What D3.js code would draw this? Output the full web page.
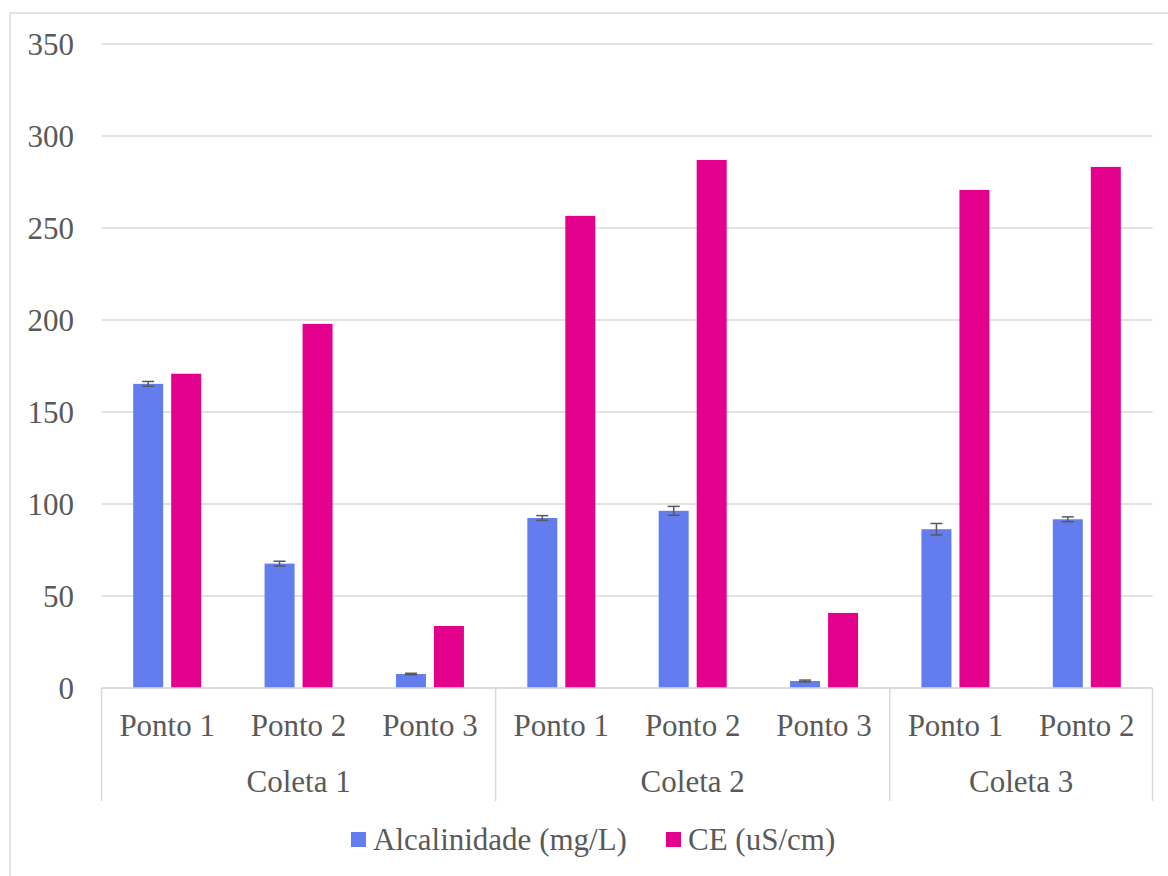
<!DOCTYPE html>
<html><head><meta charset="utf-8">
<script src="https://cdn.jsdelivr.net/npm/d3@7"></script>
<style>body{margin:0;background:#fff}svg{display:block}</style>
</head><body>
<svg id="c" width="1168" height="876"></svg>
<script>
const groups = ["Coleta 1","Coleta 2","Coleta 3"];
const points = [["Ponto 1","Ponto 2","Ponto 3"],["Ponto 1","Ponto 2","Ponto 3"],["Ponto 1","Ponto 2"]];
const seriesNames = ["Alcalinidade (mg/L)","CE (uS/cm)"];
const alcalinidade = [165.3, 67.6, 7.6, 92.4, 96.3, 3.8, 86.3, 91.7];
const alcErr = [1.3, 1.3, 0.4, 1.3, 2.4, 0.5, 3.1, 1.3];
const ce = [170.8, 197.9, 33.7, 256.6, 287.0, 40.8, 270.7, 283.2];
const yTicks = [0,50,100,150,200,250,300,350];
const colors = ["#647DEE","#E3008C"];

(function(){
const svg = d3.select("#c");
const font = "'Liberation Serif','Times New Roman',serif";
const fs = 31;
const textColor = "#595959";
const pL = 101.5, pR = 1152.5, pT = 44, pB = 688;

svg.append("rect").attr("x",10).attr("y",13).attr("width",1200).attr("height",900)
  .attr("fill","none").attr("stroke","#d9d9d9").attr("stroke-width",1.5);

const cats = [];
points.forEach((ps,gi)=>ps.forEach((p,pi)=>cats.push({g:gi,label:p,key:gi+"-"+pi})));
const data = cats.map((c,i)=>({...c, v:[alcalinidade[i], ce[i]], e:alcErr[i]}));

const x = d3.scaleBand().domain(cats.map(c=>c.key)).range([pL,pR]).paddingInner(0).paddingOuter(0);
const y = d3.scaleLinear().domain([0,350]).range([pB,pT]);
const barW = 30, gap = 8;
const xs = d3.scaleBand().domain([0,1]).range([-(barW+gap/2), barW+gap/2]).paddingInner(gap/(barW+gap)).paddingOuter(0);

svg.append("g").selectAll("line").data(yTicks).join("line")
  .attr("x1",pL).attr("x2",pR).attr("y1",d=>y(d)).attr("y2",d=>y(d))
  .attr("stroke","#d9d9d9").attr("stroke-width",1.5);

svg.append("g").selectAll("text").data(yTicks).join("text")
  .attr("x",74).attr("y",d=>y(d)+11).attr("text-anchor","end")
  .attr("font-family",font).attr("font-size",fs).attr("fill",textColor).text(d=>d);

const cg = svg.append("g").selectAll("g").data(data).join("g")
  .attr("transform",d=>`translate(${x(d.key)+x.bandwidth()/2},0)`);
cg.selectAll("rect").data(d=>d.v.map((v,i)=>({v,i}))).join("rect")
  .attr("x",d=>xs(d.i)).attr("width",xs.bandwidth())
  .attr("y",d=>y(d.v)).attr("height",d=>pB-y(d.v))
  .attr("fill",d=>colors[d.i]);

const cx0 = xs(0)+xs.bandwidth()/2;
const eb = cg.append("g").attr("stroke","#595959").attr("stroke-width",1.5);
eb.append("line").attr("x1",cx0).attr("x2",cx0)
  .attr("y1",d=>y(d.v[0]+d.e)).attr("y2",d=>y(d.v[0]-d.e));
[1,-1].forEach(s=>eb.append("line")
  .attr("x1",cx0-6).attr("x2",cx0+6)
  .attr("y1",d=>y(d.v[0]+s*d.e)).attr("y2",d=>y(d.v[0]+s*d.e)));

svg.append("line").attr("x1",pL).attr("x2",pR).attr("y1",pB).attr("y2",pB)
  .attr("stroke","#d9d9d9").attr("stroke-width",1.5);

svg.append("g").selectAll("text").data(cats).join("text")
  .attr("x",d=>x(d.key)+x.bandwidth()/2).attr("y",736).attr("text-anchor","middle")
  .attr("font-family",font).attr("font-size",fs).attr("fill",textColor).text(d=>d.label);

let idx = 0;
const bounds = [];
points.forEach((ps,gi)=>{ const s = x(cats[idx].key); idx += ps.length; const e = x(cats[idx-1].key)+x.bandwidth(); bounds.push({gi,s,e}); });
const divX = [bounds[0].s, ...bounds.map(b=>b.e)];
svg.append("g").selectAll("line").data(divX).join("line")
  .attr("x1",d=>d).attr("x2",d=>d).attr("y1",pB).attr("y2",801)
  .attr("stroke","#d9d9d9").attr("stroke-width",1.5);
svg.append("g").selectAll("text").data(bounds).join("text")
  .attr("x",d=>(d.s+d.e)/2).attr("y",792).attr("text-anchor","middle")
  .attr("font-family",font).attr("font-size",fs).attr("fill",textColor).text(d=>groups[d.gi]);

const leg = svg.append("g");
const legX = [351, 666];
seriesNames.forEach((n,i)=>{
  leg.append("rect").attr("x",legX[i]).attr("y",832).attr("width",15).attr("height",15).attr("fill",colors[i]);
  leg.append("text").attr("x",legX[i]+22).attr("y",850).attr("font-family",font).attr("font-size",fs)
    .attr("fill",textColor).text(n);
});
})();
</script>
</body></html>
